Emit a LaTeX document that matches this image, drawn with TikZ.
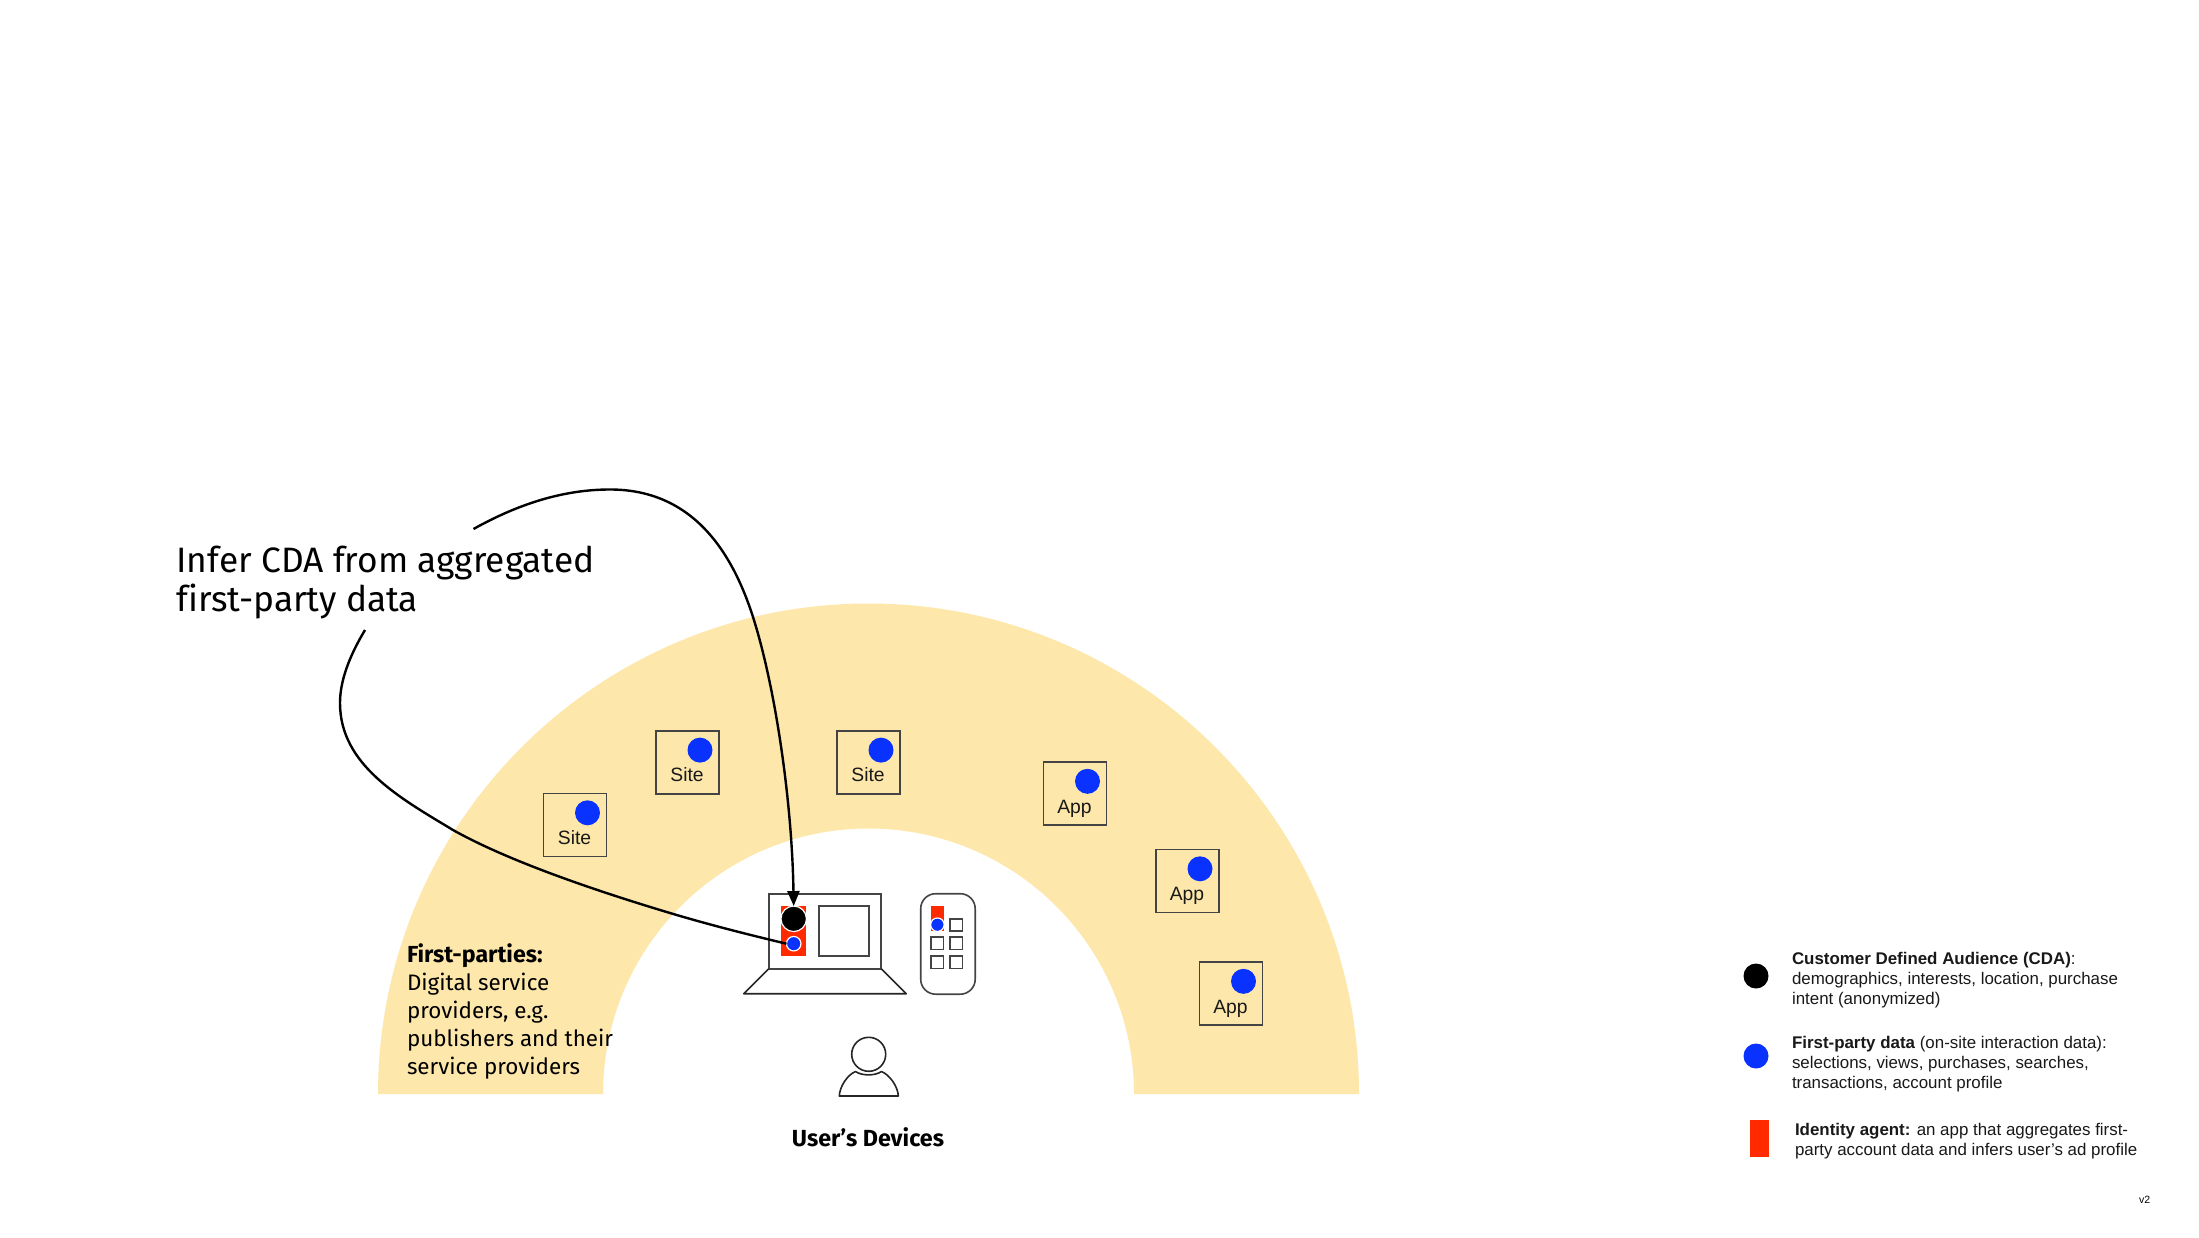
\documentclass[tikz,border=0pt]{standalone}
\usepackage{fontspec}
\setmainfont[Ligatures=NoCommon]{Fira Sans}
\newfontfamily\legendfont{Liberation Sans}
\usetikzlibrary{arrows.meta}
\definecolor{ringc}{HTML}{FDE7AA}
\definecolor{bluec}{HTML}{0A32FF}
\definecolor{redc}{HTML}{FF2A00}
\definecolor{edgec}{HTML}{444444}
\tikzset{
  every node/.style={outer sep=0pt},
  boxn/.style={draw=edgec,line width=1.7pt,minimum width=63pt,minimum height=63pt,inner sep=0pt,anchor=north west},
  boxlabel/.style={font=\legendfont\fontsize{19.3}{24}\selectfont,inner sep=0pt,text=black!90,anchor=base},
  bluedot/.style={circle,fill=bluec,minimum size=25pt,inner sep=0pt},
  ringdot/.style={circle,draw=white,line width=1.2pt,inner sep=0pt},
  smallsq/.style={draw=edgec,line width=1.6pt,minimum width=12.5pt,minimum height=12.5pt,inner sep=0pt,anchor=north west},
  conn/.style={draw=black,line width=2.4pt},
  legtext/.style={font=\legendfont\fontsize{16.9}{20}\selectfont,align=left,anchor=north west,inner sep=0pt,text=black!90},
}
\begin{document}
\begin{tikzpicture}[x=1pt,y=-1pt]
\useasboundingbox (0,0) rectangle (2199,1238);
\fill[white] (0,0) rectangle (2199,1238);
% ring
\fill[ringc] (378,1094) arc[start angle=180,end angle=360,radius=490.5] -- (1134,1094) arc[start angle=360,end angle=180,radius=265.5] -- cycle;
% site / app boxes
\node[boxn] (s1) at (543.5,793.5) {};
\node[boxn] (s2) at (656,730.8) {};
\node[boxn] (s3) at (837,730.8) {};
\node[boxn] (a1) at (1043.5,762) {};
\node[boxn] (a2) at (1156,849.5) {};
\node[boxn] (a3) at (1199.5,962) {};
\foreach \b/\t in {s1/Site,s2/Site,s3/Site,a1/App,a2/App,a3/App}{
  \node[bluedot] (\b d) at ([shift={(44,19.3)}]\b.north west) {};
  \node[boxlabel] (\b t) at ([shift={(31,51)}]\b.north west) {\t};
}
% laptop
\node[draw=edgec,line width=1.6pt,minimum width=112.5pt,minimum height=75pt,inner sep=0pt,anchor=north west] (screen) at (768.7,893.7) {};
\coordinate (baseL) at (743.7,993.7);
\coordinate (baseR) at (906.3,993.7);
\draw[draw=black!85,line width=1.6pt,line join=round] (screen.south west) -- (baseL) -- (baseR) -- (screen.south east);
\node[fill=redc,minimum width=25pt,minimum height=50pt,inner sep=0pt,anchor=north west] (agent) at (781,906) {};
\node[draw=edgec,line width=1.6pt,minimum width=50.5pt,minimum height=50pt,inner sep=0pt,anchor=north west] (window) at (818.7,905.8) {};
% phone
\node[draw=edgec,line width=1.6pt,rounded corners=15pt,minimum width=54.5pt,minimum height=100.5pt,inner sep=0pt,anchor=north west] (phone) at (920.7,893.7) {};
\node[fill=redc,minimum width=13pt,minimum height=25pt,inner sep=0pt,anchor=north west] (agent2) at (931,906) {};
\node[ringdot,fill=bluec,minimum size=13.5pt] (fpd2) at (937.4,924.7) {};
\node[smallsq] (q1) at (950,918.7) {};
\node[smallsq] (q2) at (931,936.8) {};
\node[smallsq] (q3) at (950,936.8) {};
\node[smallsq] (q4) at (931,955.8) {};
\node[smallsq] (q5) at (950,955.8) {};
% person
\node[circle,draw=black!85,line width=1.6pt,minimum size=34pt,inner sep=0pt] (head) at (868.7,1054.3) {};
\draw[draw=black!85,line width=1.6pt,line join=round] (855.5,1071.5) .. controls (862,1076) and (875,1076) .. (881.5,1071.5)
  .. controls (890,1075) and (898,1087) .. (898.3,1096) -- (839.3,1096) .. controls (839.6,1087) and (847,1075) .. (855.5,1071.5) -- cycle;
% labels
\node[font=\bfseries\fontsize{23.3}{27}\selectfont,inner sep=0pt] (dev) at (868,1137.5) {User’s Devices};
\node[font=\fontsize{35.3}{39}\selectfont,align=left,anchor=west,inner sep=0pt] (infer) at (176.5,583) {Infer CDA from aggregated\\first-party data};
\node[font=\fontsize{22.4}{28}\selectfont,align=left,anchor=north west,inner sep=0pt] (fp) at (407,943.5) {{\bfseries\fontsize{23.2}{28}\selectfont First-parties:}\\Digital service\\providers, e.g.\\publishers and their\\service providers};
% connectors (drawn under the dots)
\coordinate (c1s) at (473.5,529);
\coordinate (c2s) at (365,630);
\node[ringdot,fill=black,minimum size=25.5pt] (cda) at (793.7,918.8) {};
\node[ringdot,fill=bluec,minimum size=14.5pt] (fpd) at (793.7,943.7) {};
\draw[conn,-{Triangle[length=15pt,width=12pt]}] (c1s) .. controls (520,503) and (565,489.5) .. (610,489.5)
  .. controls (688,489.5) and (730,545) .. (753,617)
  .. controls (775,686) and (792,800) .. (cda.north);
\draw[conn] (c2s) .. controls (350,655) and (340,680) .. (340,703)
  .. controls (340,765) and (400,798) .. (453,830)
  .. controls (510,862) and (600,892) .. (670,913)
  .. controls (710,925) and (750,935) .. (fpd.west);
% legend
\node[circle,fill=black,minimum size=25pt,inner sep=0pt] (lk1) at (1756,976) {};
\node[bluedot] (lk2) at (1756,1056) {};
\node[fill=redc,minimum width=19pt,minimum height=37pt,inner sep=0pt,anchor=north west] (lk3) at (1750,1120) {};
\node[legtext] (l1) at (1792,951.8) {\textbf{Customer Defined Audience (CDA)}:\\demographics, interests, location, purchase\\intent (anonymized)};
\node[legtext] (l2) at (1792,1035.8) {\textbf{First-party data} (on-site interaction data):\\selections, views, purchases, searches,\\transactions, account profile};
\node[legtext] (l3) at (1795,1122.8) {\textbf{Identity agent:} an app that aggregates first-\\party account data and infers user’s ad profile};
\node[font=\legendfont\fontsize{10.5}{12}\selectfont,anchor=west,inner sep=0pt] (ver) at (2139,1200) {v2};
\end{tikzpicture}
\end{document}
